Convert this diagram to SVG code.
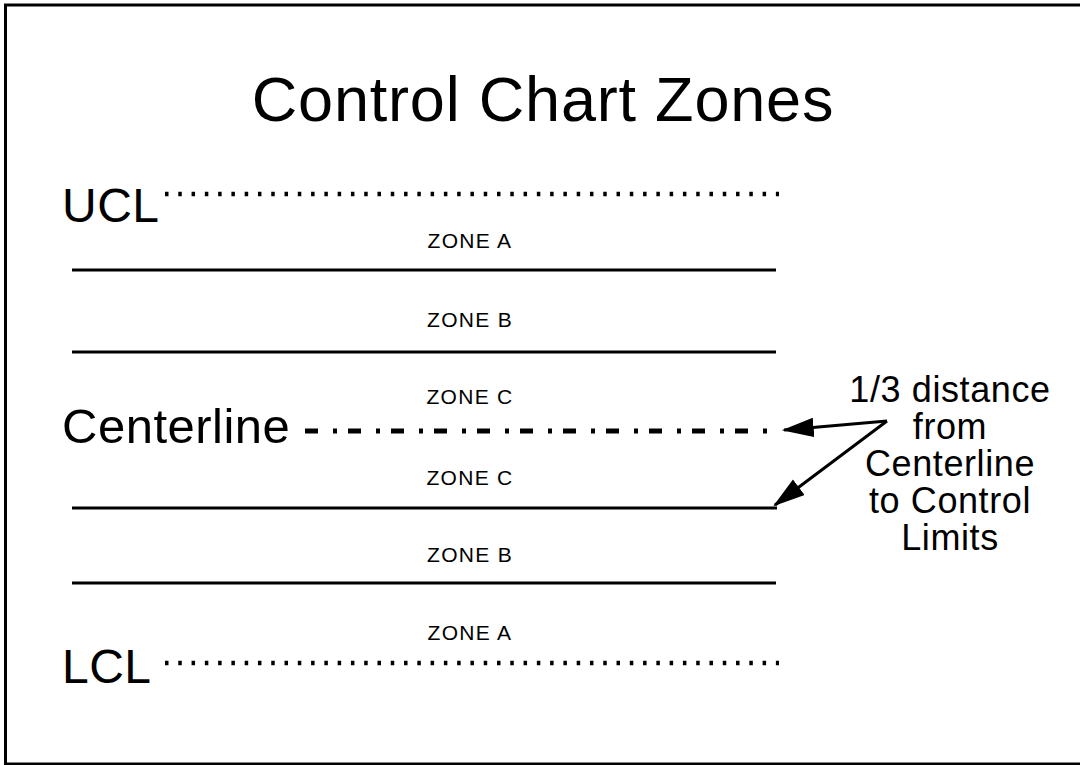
<svg xmlns="http://www.w3.org/2000/svg" width="1080" height="765" viewBox="0 0 1080 765">
<style>
text{font-family:"Liberation Sans",Arial,sans-serif;fill:#000}
.title{font-size:63px;letter-spacing:0.8px;text-anchor:middle}
.lab{font-size:48px;letter-spacing:0.5px}
.zone{font-size:21px;letter-spacing:1.3px;text-anchor:middle}
.note{font-size:36px;letter-spacing:0.6px;text-anchor:middle}
.solid{stroke:#000;stroke-width:3;fill:none}
.dot{stroke:#000;stroke-width:4.5;stroke-dasharray:3.5 9.78;fill:none}
.dashdot{stroke:#000;stroke-width:5;stroke-dasharray:13 15 4 11;fill:none}
.arr{stroke:#000;stroke-width:3;fill:none;marker-end:url(#ah)}
</style>
<defs>
<marker id="ah" markerUnits="userSpaceOnUse" markerWidth="32" markerHeight="20" viewBox="0 0 28 17" refX="26" refY="8.5" orient="auto">
<path d="M0,0 L28,8.5 L0,17 Z" fill="#000"/>
</marker>
</defs>
<rect x="0" y="0" width="1080" height="765" fill="#fff"/>
<rect x="5.5" y="5" width="1090" height="759" fill="none" stroke="#000" stroke-width="3"/>
<g id="title"><text class="title" x="543" y="121">Control Chart Zones</text></g>
<g id="ucl"><text class="lab" x="62" y="222">UCL</text></g>
<g id="centerline"><text class="lab" x="62" y="443" style="font-size:49px">Centerline</text></g>
<g id="lcl"><text class="lab" x="62" y="683">LCL</text></g>
<g id="zones">
<text class="zone" x="470" y="248">ZONE A</text>
<text class="zone" x="470" y="327">ZONE B</text>
<text class="zone" x="470" y="404">ZONE C</text>
<text class="zone" x="470" y="485">ZONE C</text>
<text class="zone" x="470" y="562">ZONE B</text>
<text class="zone" x="470" y="640">ZONE A</text>
</g>
<g id="note">
<text class="note" x="950" y="402">1/3 distance</text>
<text class="note" x="950" y="439">from</text>
<text class="note" x="950" y="476">Centerline</text>
<text class="note" x="950" y="513">to Control</text>
<text class="note" x="950" y="550">Limits</text>
</g>
<g id="lines">
<line class="dot" x1="165" y1="194" x2="779" y2="194"/>
<line class="solid" x1="72" y1="270" x2="776" y2="270"/>
<line class="solid" x1="72" y1="352" x2="776" y2="352"/>
<line class="dashdot" x1="305" y1="431" x2="772" y2="431"/>
<line class="solid" x1="72" y1="508" x2="777" y2="508"/>
<line class="solid" x1="72" y1="583" x2="776" y2="583"/>
<line class="dot" x1="165" y1="663" x2="779" y2="663"/>
</g>
<g id="connectors">
<line class="arr" x1="887" y1="421" x2="784" y2="430"/>
<line class="arr" x1="887" y1="421" x2="775" y2="505"/>
</g>
</svg>
